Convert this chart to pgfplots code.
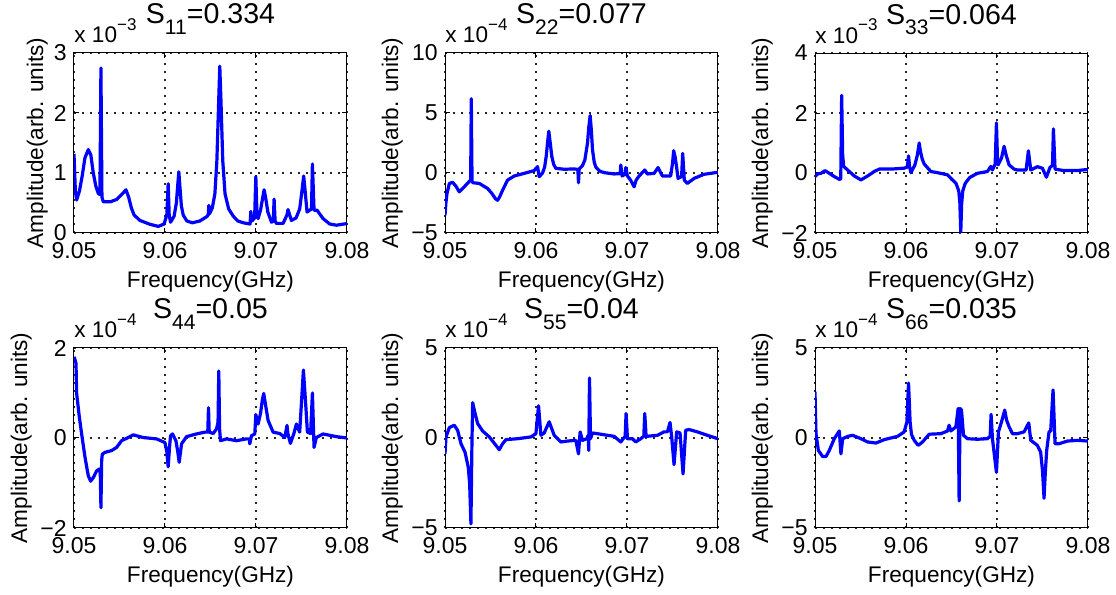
\documentclass[border=0pt]{standalone}
\usepackage{fontspec}
\setmainfont{Liberation Sans}
\usepackage{pgfplots}
\pgfplotsset{compat=1.18}

\newcommand\ticksize{\fontsize{11.5}{12}\selectfont}
\newcommand\labsize{\fontsize{11.3}{12}\selectfont}
\newcommand\titlesize{\fontsize{14.3}{15}\selectfont}
\newcommand\ttl[2]{S\raisebox{-0.38em}{\fontsize{10.5}{11}\selectfont #1}=#2}
\newcommand\scl[1]{x 10\raisebox{0.55em}{\fontsize{8.5}{9}\selectfont −#1}}
\newlength\ylabsh

\pgfplotsset{
  panel/.style={
    scale only axis, width=136.5pt, height=90pt,
    anchor=south west,
    xmin=9.05, xmax=9.08,
    xtick={9.05,9.06,9.07,9.08},
    xticklabels={9.05,9.06,9.07,9.08},
    grid=major,
    grid style={black!85, line width=0.6pt, dash pattern=on 0.8pt off 3.2pt},
    tick align=inside, major tick length=2.5pt,
    axis line style={black, line width=0.5pt},
    tick style={black, line width=0.5pt},
    xticklabel style={font=\ticksize, inner sep=0pt, anchor=north, yshift=-4.5pt},
    yticklabel style={font=\ticksize, inner sep=0pt, anchor=east, xshift=-3.5pt},
    xlabel={Frequency(GHz)}, ylabel={Amplitude(arb. units)},
    label style={font=\labsize},
    xlabel style={at={([yshift=-27.5pt]axis description cs:0.5,0)}, anchor=base},
    ylabel style={at={([xshift=-\ylabsh]axis description cs:0,0.5)}, anchor=base},
    every axis title shift=0pt,
    title style={at={([yshift=14.5pt]axis description cs:0.5,1)}, anchor=base, font=\titlesize},
    clip mode=individual,
    no markers,
    every axis plot/.append style={color=blue, line width=1.6pt, line join=round},
  },
}
\tikzset{sclabel/.style={anchor=base west, inner sep=0pt, font=\labsize}}

\begin{document}
\begin{tikzpicture}
\useasboundingbox (0,0) rectangle (558pt,297.5pt);

% ---- S11
\setlength\ylabsh{15.5pt}
\begin{axis}[panel, at={(37pt,181pt)}, ymin=0, ymax=3,
  ytick={0,1,2,3}, yticklabels={0,1,2,3}, title={\ttl{11}{0.334}}]
\addplot coordinates {
(9.05,1.32)(9.05015,0.7)(9.05029,0.55)(9.05060,0.7)(9.05090,0.95)(9.05120,1.25)(9.05157,1.39)
(9.05185,1.3)(9.05212,1.0)(9.05240,0.78)(9.05267,0.66)(9.05285,0.64)(9.05296,2.75)(9.05307,0.6)
(9.05322,0.52)(9.05400,0.52)(9.05470,0.56)(9.05530,0.65)(9.05571,0.72)(9.05600,0.6)(9.05630,0.42)
(9.05660,0.3)(9.05724,0.21)(9.05834,0.145)(9.05926,0.11)(9.05990,0.15)(9.06020,0.3)(9.06035,0.82)
(9.06046,0.3)(9.06061,0.18)(9.06100,0.28)(9.06125,0.5)(9.06140,0.8)(9.06152,1.02)(9.06165,0.75)
(9.06180,0.45)(9.06200,0.3)(9.06240,0.2)(9.06300,0.17)(9.06383,0.2)(9.06456,0.27)(9.06475,0.3)
(9.06482,0.46)(9.06490,0.32)(9.06520,0.42)(9.06548,0.65)(9.06570,1.2)(9.06590,2.2)(9.06602,2.78)
(9.06615,2.2)(9.06635,1.2)(9.06660,0.65)(9.06700,0.4)(9.06750,0.28)(9.06800,0.2)(9.06860,0.17)
(9.06935,0.15)(9.06943,0.36)(9.06955,0.2)(9.06985,0.25)(9.06998,0.94)(9.07010,0.35)(9.07023,0.24)
(9.07050,0.38)(9.07075,0.6)(9.07089,0.72)(9.07105,0.6)(9.07130,0.35)(9.07170,0.18)(9.07190,0.2)
(9.07199,0.565)(9.07210,0.2)(9.07224,0.16)(9.07298,0.16)(9.07340,0.3)(9.07352,0.39)(9.07389,0.21)
(9.07440,0.25)(9.07480,0.4)(9.07505,0.7)(9.07524,0.95)(9.07540,0.7)(9.07561,0.35)(9.07610,0.4)
(9.07620,1.15)(9.07638,0.38)(9.07671,0.38)(9.07737,0.24)(9.07810,0.15)(9.07883,0.13)(9.08,0.157)
};
\node[sclabel] at ([yshift=5pt]rel axis cs:0,1) {\scl{3}};
\end{axis}

% ---- S22
\setlength\ylabsh{23.5pt}
\begin{axis}[panel, at={(222.5pt,181pt)}, ymin=-5, ymax=10,
  ytick={-5,0,5,10}, yticklabels={−5,0,5,10}, title={\ttl{22}{0.077}}]
\addplot coordinates {
(9.05,-3.52)(9.05010,-2.5)(9.05022,-1.7)(9.05048,-0.87)(9.05084,-0.78)(9.05120,-1.1)(9.05157,-1.57)
(9.05212,-1.15)(9.05267,-0.7)(9.05282,-0.6)(9.05289,6.19)(9.05297,-0.7)(9.05307,-0.81)(9.05377,-0.87)
(9.05468,-1.29)(9.05520,-1.75)(9.05555,-2.15)(9.05578,-2.27)(9.05600,-2.0)(9.05633,-1.43)
(9.05688,-0.59)(9.05761,-0.25)(9.05871,-0.03)(9.05980,0.2)(9.06017,0.53)(9.06035,-0.31)(9.06072,0.0)
(9.06095,0.5)(9.06112,1.37)(9.06128,2.6)(9.06141,3.48)(9.06155,2.6)(9.06174,1.37)(9.06195,0.7)
(9.06218,0.39)(9.06310,0.31)(9.06420,0.34)(9.06460,0.3)(9.06467,-0.81)(9.06475,0.35)(9.06510,0.6)
(9.06537,1.09)(9.06566,2.49)(9.06580,3.8)(9.06595,4.79)(9.06608,3.6)(9.06621,1.94)(9.06640,0.9)
(9.06657,0.5)(9.06700,0.15)(9.06749,0.03)(9.06859,-0.08)(9.06925,-0.05)(9.06932,0.67)(9.06946,-0.25)
(9.06980,-0.1)(9.06987,0.45)(9.07005,-0.25)(9.07040,-0.6)(9.07078,-1.15)(9.07100,-0.6)(9.07133,-0.25)
(9.07195,0.25)(9.07224,-0.08)(9.07298,-0.03)(9.07341,0.45)(9.07389,-0.25)(9.07480,-0.25)
(9.07500,0.8)(9.07513,1.86)(9.07530,1.3)(9.07545,0.5)(9.07561,-0.45)(9.07600,-0.3)(9.07612,1.63)
(9.07630,-0.6)(9.07663,-0.87)(9.07737,-0.45)(9.07846,-0.11)(9.08,0.06)
};
\node[sclabel] at ([yshift=5pt]rel axis cs:0,1) {\scl{4}};
\end{axis}

% ---- S33
\begin{axis}[panel, at={(407.5pt,181pt)}, ymin=-2, ymax=4,
  ytick={-2,0,2,4}, yticklabels={−2,0,2,4}, title={\ttl{33}{0.064}}]
\addplot coordinates {
(9.05,-0.12)(9.05029,-0.03)(9.05066,-0.01)(9.05110,0.08)(9.05157,-0.01)(9.05212,-0.12)
(9.05267,-0.21)(9.05283,-0.2)(9.05293,2.59)(9.05304,0.6)(9.05315,0.22)(9.05377,0.05)
(9.05432,-0.10)(9.05505,-0.23)(9.05578,-0.10)(9.05651,0.05)(9.05706,0.13)(9.05834,0.13)
(9.05980,0.16)(9.06015,0.2)(9.06028,0.57)(9.06040,0.2)(9.06054,0.01)(9.06098,0.27)
(9.06125,0.6)(9.06145,1.0)(9.06160,0.7)(9.06180,0.45)(9.06200,0.3)(9.06273,0.05)(9.06346,0.01)
(9.06456,-0.06)(9.06500,-0.2)(9.06550,-0.35)(9.06580,-0.6)(9.06592,-1.0)(9.06602,-1.97)
(9.06612,-1.0)(9.06624,-0.6)(9.06650,-0.35)(9.06700,-0.15)(9.06785,-0.01)(9.06895,0.05)
(9.06932,0.22)(9.06950,0.10)(9.06980,0.3)(9.06994,1.67)(9.07005,0.5)(9.07012,0.27)(9.07050,0.5)
(9.07078,0.89)(9.07100,0.6)(9.07133,0.27)(9.07188,0.13)(9.07224,0.10)(9.07320,0.10)(9.07345,0.74)
(9.07371,0.10)(9.07444,0.21)(9.07499,0.16)(9.07543,-0.14)(9.07583,0.19)(9.07610,0.25)(9.07620,1.47)
(9.07638,0.13)(9.07737,0.08)(9.07883,0.08)(9.08,0.12)
};
\node[sclabel] at ([yshift=5pt]rel axis cs:0,1) {\scl{3}};
\end{axis}

% ---- S44
\begin{axis}[panel, at={(37pt,33.5pt)}, ymin=-2, ymax=2,
  ytick={-2,0,2}, yticklabels={−2,0,2}, title={\ttl{44}{0.05}}]
\addplot coordinates {
(9.05,1.8)(9.05007,1.77)(9.05022,1.66)(9.05029,0.99)(9.05059,0.46)(9.05084,0.09)
(9.05121,-0.43)(9.05157,-0.84)(9.05183,-0.96)(9.05212,-0.88)(9.05249,-0.73)(9.05278,-0.69)
(9.05289,-0.8)(9.05296,-1.55)(9.05304,-0.5)(9.05311,-0.36)(9.05340,-0.32)(9.05413,-0.28)
(9.05468,-0.21)(9.05523,-0.06)(9.05596,0.01)(9.05651,0.07)(9.05761,0.01)(9.05907,-0.02)
(9.05999,-0.10)(9.06020,-0.3)(9.06035,-0.64)(9.06050,-0.2)(9.06061,0.05)(9.06083,0.09)
(9.06120,-0.06)(9.06140,-0.3)(9.06156,-0.54)(9.06182,-0.13)(9.06237,0.03)(9.06346,0.09)
(9.06438,0.13)(9.06470,0.13)(9.06478,0.67)(9.06486,0.13)(9.06529,0.10)(9.06566,0.20)
(9.06583,0.35)(9.06591,1.49)(9.06600,0.2)(9.06610,-0.06)(9.06676,-0.02)(9.06785,-0.06)
(9.06895,-0.02)(9.06925,-0.02)(9.06932,-0.13)(9.06950,0.05)(9.06987,0.09)(9.06998,0.52)
(9.07023,0.31)(9.07050,0.55)(9.07070,0.85)(9.07085,0.99)(9.07100,0.8)(9.07133,0.39)(9.07188,0.13)
(9.07261,0.10)(9.07316,0.01)(9.07341,0.28)(9.07350,0.1)(9.07378,-0.12)(9.07415,0.09)(9.07444,0.31)
(9.07480,0.13)(9.07499,0.76)(9.07521,1.51)(9.07546,0.76)(9.07565,0.13)(9.07600,0.1)
(9.07620,1.0)(9.07638,-0.21)(9.07663,0.01)(9.07737,0.09)(9.07883,0.03)(9.08,0.0)
};
\node[sclabel] at ([yshift=5pt]rel axis cs:0,1) {\scl{4}};
\end{axis}

% ---- S55
\begin{axis}[panel, at={(222.5pt,33.5pt)}, ymin=-5, ymax=5,
  ytick={-5,0,5}, yticklabels={−5,0,5}, title={\ttl{55}{0.04}}]
\addplot coordinates {
(9.05,-0.88)(9.05011,0.06)(9.05048,0.58)(9.05102,0.71)(9.05139,0.43)(9.05176,-0.32)
(9.05220,-0.79)(9.05256,-1.63)(9.05271,-2.56)(9.05285,-4.77)(9.05296,-0.32)(9.05304,1.96)
(9.05322,1.55)(9.05359,0.80)(9.05413,0.39)(9.05487,0.06)(9.05560,-0.41)(9.05596,-0.65)
(9.05633,-0.32)(9.05670,-0.09)(9.05798,-0.04)(9.05944,0.06)(9.05999,0.24)(9.06028,1.79)
(9.06054,0.15)(9.06090,0.28)(9.06145,0.90)(9.06200,0.15)(9.06273,-0.22)(9.06346,-0.17)
(9.06438,-0.13)(9.06467,-0.88)(9.06485,0.34)(9.06511,-0.13)(9.06559,-0.04)(9.06573,0.15)
(9.06580,-0.69)(9.06588,3.33)(9.06599,-0.04)(9.06621,0.28)(9.06712,0.21)(9.06859,0.09)
(9.06932,-0.22)(9.06980,0.1)(9.06990,1.36)(9.07005,-0.04)(9.07060,-0.04)(9.07096,-0.22)
(9.07151,-0.04)(9.07185,0.1)(9.07195,1.36)(9.07210,0.09)(9.07334,0.15)(9.07407,0.34)
(9.07444,0.34)(9.07473,0.86)(9.07491,0.06)(9.07517,-1.48)(9.07546,0.34)(9.07583,0.28)
(9.07616,-2.0)(9.07645,0.43)(9.07682,0.47)(9.07773,0.34)(9.07883,0.15)(9.08,-0.04)
};
\node[sclabel] at ([yshift=5pt]rel axis cs:0,1) {\scl{4}};
\end{axis}

% ---- S66
\begin{axis}[panel, at={(407.5pt,33.5pt)}, ymin=-5, ymax=5,
  ytick={-5,0,5}, yticklabels={−5,0,5}, title={\ttl{66}{0.035}}]
\addplot coordinates {
(9.05,2.58)(9.05011,0.24)(9.05037,-0.69)(9.05084,-1.03)(9.05121,-1.03)(9.05157,-0.69)
(9.05212,-0.04)(9.05267,0.39)(9.05285,-0.88)(9.05304,-0.04)(9.05359,0.09)(9.05413,0.15)
(9.05505,-0.04)(9.05578,-0.22)(9.05670,-0.28)(9.05761,-0.09)(9.05907,0.09)(9.05980,0.34)
(9.06010,0.9)(9.06028,3.05)(9.06045,0.9)(9.06060,0.2)(9.06090,-0.13)(9.06134,-0.41)(9.06182,-0.22)
(9.06255,0.21)(9.06383,0.24)(9.06456,0.39)(9.06474,0.71)(9.06493,0.39)(9.06548,0.62)(9.06573,1.64)
(9.06584,-3.50)(9.06595,1.64)(9.06610,1.55)(9.06632,0.15)(9.06676,-0.04)(9.06785,-0.07)
(9.06895,-0.04)(9.06925,0.1)(9.06935,1.31)(9.06950,-0.04)(9.06994,-1.91)(9.07016,0.34)
(9.07050,0.9)(9.07085,1.55)(9.07105,1.0)(9.07133,0.62)(9.07170,0.24)(9.07224,0.24)(9.07298,0.34)
(9.07349,0.84)(9.07371,-0.13)(9.07444,-0.41)(9.07480,-0.79)(9.07500,-1.8)(9.07517,-3.35)
(9.07530,-2.0)(9.07546,-0.69)(9.07572,0.34)(9.07590,0.39)(9.07616,2.67)(9.07638,-0.32)
(9.07682,-0.32)(9.07773,-0.17)(9.07883,-0.13)(9.08,-0.17)
};
\node[sclabel] at ([yshift=5pt]rel axis cs:0,1) {\scl{4}};
\end{axis}
\end{tikzpicture}
\end{document}
